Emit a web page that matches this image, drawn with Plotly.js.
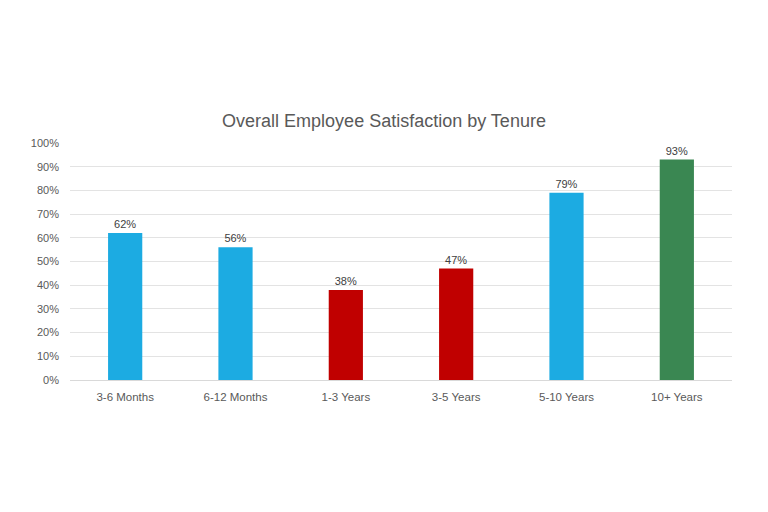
<!DOCTYPE html>
<html>
<head>
<meta charset="utf-8">
<script src="https://cdn.plot.ly/plotly-3.0.1.min.js"></script>
<style>html,body{margin:0;padding:0;background:#fff;}#chart{width:768px;height:512px;}</style>
</head>
<body>
<div id="chart"></div>
<script>
const categories = ["3-6 Months", "6-12 Months", "1-3 Years", "3-5 Years", "5-10 Years", "10+ Years"];
const values = [0.62, 0.56, 0.38, 0.47, 0.79, 0.93];
const barColors = ["#1CABE2", "#1CABE2", "#C00000", "#C00000", "#1CABE2", "#3A8752"];
const yTickVals = [0, 0.1, 0.2, 0.3, 0.4, 0.5, 0.6, 0.7, 0.8, 0.9, 1.0];

const trace = {
  type: "bar",
  x: categories,
  y: values,
  marker: {color: barColors},
  width: 0.31,
  text: values.map(v => Math.round(v * 100) + "%"),
  textposition: "outside",
  cliponaxis: false,
  textfont: {family: "Liberation Sans, Arial, sans-serif", size: 11, color: "#404040"},
  hoverinfo: "none"
};

const layout = {
  width: 768, height: 512,
  margin: {l: 70, r: 36, t: 143, b: 132},
  paper_bgcolor: "#fff", plot_bgcolor: "#fff",
  font: {family: "Liberation Sans, Arial, sans-serif", color: "#595959"},
  title: {
    text: "Overall Employee Satisfaction by Tenure",
    font: {size: 18, color: "#595959", family: "Liberation Sans, Arial, sans-serif"},
    x: 0.5, xanchor: "center",
    y: 1 - 121 / 512, yref: "container", yanchor: "middle"
  },
  xaxis: {
    tickfont: {size: 11.5, color: "#595959"},
    showgrid: false, showline: true, linecolor: "#d9d9d9", linewidth: 1,
    ticks: "", ticklen: 0, ticklabelstandoff: 6
  },
  yaxis: {
    range: [0, 1.0],
    tickvals: yTickVals,
    tickformat: ".0%",
    tickfont: {size: 11, color: "#595959"},
    showgrid: true, gridcolor: "#e3e3e3", gridwidth: 1,
    zeroline: false, showline: false,
    ticks: "", ticklabelstandoff: 10
  },
  showlegend: false,
  bargap: 0.69
};

Plotly.newPlot("chart", [trace], layout, {displayModeBar: false, staticPlot: true});
</script>
</body>
</html>
